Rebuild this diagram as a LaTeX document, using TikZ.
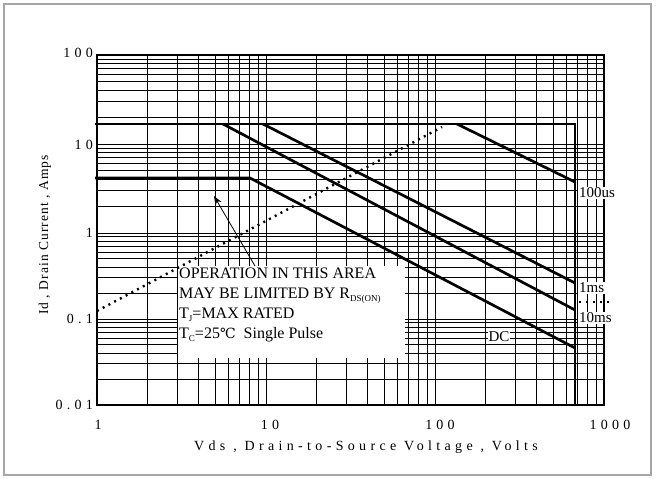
\documentclass[tikz,border=0pt]{standalone}
\usepackage{fontspec}
\setmainfont{Liberation Serif}
\newfontfamily\spfont[LetterSpace=30]{Liberation Serif}
\newfontfamily\ttlfont[LetterSpace=31]{Liberation Serif}
\newfontfamily\ytlfont[LetterSpace=8]{Liberation Serif}
\newfontfamily\symfont{DejaVu Serif}
\usetikzlibrary{arrows.meta}
\begin{document}
\begin{tikzpicture}[x=1pt,y=1pt,
  gridline/.style={line width=1pt},
  frameline/.style={line width=1.6pt},
  curve/.style={line width=2.7pt},
  dotcurve/.style={line width=2.4pt,dash pattern=on 2pt off 4.5pt},
  lbl/.style={fill=white,inner sep=1pt,font=\fontsize{15}{17}\selectfont},
  ticklbl/.style={font=\spfont\fontsize{14}{16}\selectfont,inner sep=0pt},
  axtitle/.style={font=\ttlfont\fontsize{14}{16}\selectfont,inner sep=0pt},
  yaxtitle/.style={font=\ytlfont\fontsize{13.5}{16}\selectfont,inner sep=0pt},
  notebox/.style={fill=white,inner sep=0pt,anchor=north west,minimum width=227pt,minimum height=92pt},
  pointer/.style={line width=0.8pt,-{Stealth[length=9pt,width=7pt]}}
]
\useasboundingbox (0,0) rectangle (656,-479);
\draw[gray!70,line width=1.2pt] (4,-4) rectangle (651,-475);
% grid
\foreach \d in {0,1,2}{
  \foreach \k in {1,...,9}{
    \pgfmathsetmacro{\xx}{97+169*(\d+log10(\k))}
    \draw[gridline] (\xx,-55) -- (\xx,-405);
  }
}
\foreach \b/\h in {405/86,319/86,233/89,144/89}{
  \foreach \k in {1,...,9}{
    \pgfmathsetmacro{\yy}{\b-\h*log10(\k)}
    \draw[gridline] (97,-\yy) -- (604,-\yy);
  }
}
\draw[frameline] (97,-55) rectangle (604,-405);
% tick labels
\node[ticklbl,anchor=east] (y100) at (93,-53) {100};
\node[ticklbl,anchor=east] (y10) at (93,-145) {10};
\node[ticklbl,anchor=east] (y1) at (93,-233) {1};
\node[ticklbl,anchor=east] (y01) at (93,-319) {0.1};
\node[ticklbl,anchor=east] (y001) at (93,-405) {0.01};
\node[ticklbl] (x1) at (98,-425) {1};
\node[ticklbl] (x10) at (270,-425) {10};
\node[ticklbl] (x100) at (440,-425) {100};
\node[ticklbl] (x1000) at (610,-425) {1000};
\node[axtitle] (xt) at (366,-447) {Vds , Drain-to-Source Voltage , Volts};
\node[yaxtitle,rotate=90] (yt) at (45,-235) {Id , Drain Current , Amps};
% note box
\node[notebox] (note) at (178,-266) {};
\node[anchor=north west,align=left,inner sep=0pt,font=\fontsize{16}{20}\selectfont] (notetext) at (179,-268)
 {OPERATION IN THIS AREA\\
  MAY BE LIMITED BY R\raisebox{-0.35ex}{\fontsize{9}{10}\selectfont DS(ON)}\\
  T\raisebox{-0.35ex}{\fontsize{9}{10}\selectfont J}=MAX RATED\\
  T\raisebox{-0.35ex}{\fontsize{9}{10}\selectfont C}=25{\symfont\fontsize{14}{16}\selectfont ℃}\ \ Single Pulse};
% curves
\coordinate (tl) at (95,-124);
\coordinate (tr) at (575,-124);
\coordinate (vb) at (575,-406);
\coordinate (ll) at (95,-178);
\coordinate (knee) at (250,-178);
\coordinate (dcE) at (575,-348);
\coordinate (tenS) at (223,-124);
\coordinate (tenE) at (575,-310);
\coordinate (oneS) at (263,-124);
\coordinate (oneE) at (575,-283);
\coordinate (hunS) at (457,-124);
\coordinate (hunE) at (575,-182);
\coordinate (rdsS) at (97,-311);
\coordinate (rdsE) at (442,-127);
\coordinate (tip) at (214,-196);
\draw[curve] (tl) -- (tr) -- (vb);
\draw[curve] (ll) -- (knee) -- (dcE);
\draw[curve] (tenS) -- (tenE);
\draw[curve] (oneS) -- (oneE);
\draw[curve] (hunS) -- (hunE);
\draw[dotcurve] (rdsS) -- (rdsE);
\draw[pointer] (note.north west) ++(77,0) coordinate (tail) (tail) -- (tip);
% curve labels
\node[lbl,anchor=west] (l100) at (578,-193) {100us};
\node[lbl,anchor=west] (l1) at (578,-288) {1ms};
\node[lbl,anchor=west] (l10) at (578,-318) {10ms};
\node[lbl] (ldc) at (499,-337) {DC};
\coordinate (dA) at (579,-302);
\coordinate (dB) at (610,-302);
\draw[line width=1.8pt,dash pattern=on 2pt off 5pt] (dA) -- (dB);
\end{tikzpicture}
\end{document}
